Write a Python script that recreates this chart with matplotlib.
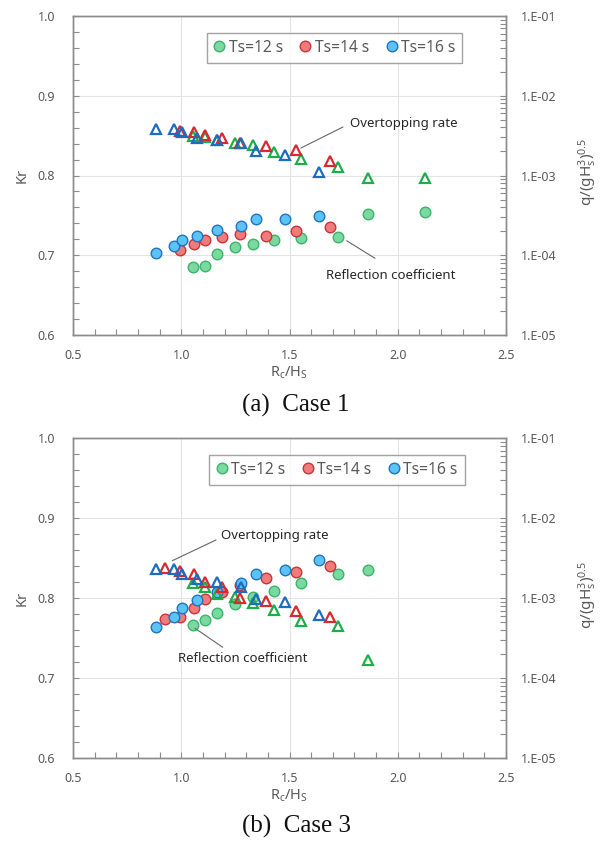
import matplotlib
matplotlib.use('Agg')
import matplotlib.pyplot as plt
import numpy as np
from matplotlib.ticker import MultipleLocator, LogLocator, FuncFormatter, NullFormatter
from matplotlib.lines import Line2D

plt.rcParams['font.family'] = ['Noto Sans', 'DejaVu Sans']

# ---------------- data: Case 1 ----------------
c1_x12 = [1.053, 1.110, 1.164, 1.247, 1.331, 1.430, 1.553, 1.725, 1.863, 2.124]
c1_kr12 = [0.685, 0.6865, 0.7015, 0.710, 0.7145, 0.7195, 0.722, 0.723, 0.7517, 0.754]
c1_q12 = [3.13e-3, 3.07e-3, 2.76e-3, 2.54e-3, 2.39e-3, 1.97e-3, 1.63e-3, 1.29e-3, 9.4e-4, 9.4e-4]

c1_x14 = [0.994, 1.057, 1.108, 1.190, 1.271, 1.393, 1.529, 1.686]
c1_kr14 = [0.707, 0.714, 0.719, 0.723, 0.727, 0.7245, 0.731, 0.736]
c1_q14 = [3.65e-3, 3.51e-3, 3.24e-3, 2.95e-3, 2.58e-3, 2.32e-3, 2.09e-3, 1.53e-3]

c1_x16 = [0.882, 0.966, 1.002, 1.073, 1.164, 1.275, 1.347, 1.481, 1.635]
c1_kr16 = [0.703, 0.712, 0.719, 0.724, 0.732, 0.737, 0.745, 0.746, 0.749]
c1_q16 = [3.79e-3, 3.86e-3, 3.48e-3, 2.98e-3, 2.79e-3, 2.54e-3, 2.05e-3, 1.79e-3, 1.10e-3]

# ---------------- data: Case 3 ----------------
c3_x12 = [1.053, 1.110, 1.164, 1.247, 1.331, 1.430, 1.553, 1.725, 1.863]
c3_kr12 = [0.7666, 0.773, 0.7816, 0.793, 0.8016, 0.809, 0.8195, 0.8308, 0.836]
c3_q12 = [1.54e-3, 1.40e-3, 1.12e-3, 1.05e-3, 8.7e-4, 7.1e-4, 5.2e-4, 4.5e-4, 1.69e-4]

c3_x14 = [0.926, 0.994, 1.057, 1.108, 1.190, 1.271, 1.393, 1.529, 1.686]
c3_kr14 = [0.7745, 0.777, 0.788, 0.799, 0.808, 0.817, 0.826, 0.833, 0.841]
c3_q14 = [2.37e-3, 2.21e-3, 2.00e-3, 1.61e-3, 1.37e-3, 1.02e-3, 9.3e-4, 6.9e-4, 5.8e-4]

c3_x16 = [0.882, 0.966, 1.002, 1.073, 1.164, 1.275, 1.347, 1.481, 1.635]
c3_kr16 = [0.7645, 0.776, 0.7875, 0.798, 0.808, 0.8195, 0.830, 0.8358, 0.848]
c3_q16 = [2.30e-3, 2.32e-3, 2.00e-3, 1.74e-3, 1.60e-3, 1.40e-3, 9.8e-4, 9.0e-4, 6.2e-4]

series_labels = ['Ts=12 s', 'Ts=14 s', 'Ts=16 s']
x_ticks = [0.5, 1.0, 1.5, 2.0, 2.5]
kr_ticks = [0.6, 0.7, 0.8, 0.9, 1.0]

# styles
circ_fill = ['#7ad9a1', '#f07b7b', '#5cc3f5']
circ_edge = ['#3cb46a', '#c9343a', '#1f74c4']
tri_edge = ['#1cae4a', '#d72a30', '#1b6dc0']

GREY = '#595959'
SPINE = '#8c8c8c'

fig = plt.figure(figsize=(6.03, 8.41), dpi=100)


def panel(rect, xs, krs, qs, leg_center, annots, caption, cap_y):
    ax = fig.add_axes(rect)
    ax2 = ax.twinx()
    ax.set_xlim(0.5, 2.5)
    ax.set_ylim(0.6, 1.0)
    ax2.set_yscale('log')
    ax2.set_ylim(1e-5, 1e-1)

    ax.set_xticks(x_ticks)
    ax.set_yticks(kr_ticks)
    ax.xaxis.set_minor_locator(MultipleLocator(0.1))
    ax.yaxis.set_minor_locator(MultipleLocator(0.02))
    ax.set_xticklabels(['%.1f' % v for v in x_ticks])
    ax.set_yticklabels(['%.1f' % v for v in kr_ticks])

    ax2.yaxis.set_major_locator(LogLocator(base=10, numticks=10))
    ax2.yaxis.set_minor_locator(LogLocator(base=10, subs=np.arange(2, 10), numticks=20))
    ax2.yaxis.set_minor_formatter(NullFormatter())
    ax2.yaxis.set_major_formatter(FuncFormatter(lambda v, p: '1.E-%02d' % int(round(-np.log10(v)))))

    ax.grid(True, which='major', color='#e3e3e3', lw=0.8)
    ax.set_axisbelow(True)

    for a in (ax, ax2):
        for s in a.spines.values():
            s.set_color(SPINE)
            s.set_linewidth(1.0)
    ax.tick_params(axis='both', which='both', direction='in', length=4, width=0.8,
                   color=SPINE, labelcolor=GREY, labelsize=9)
    ax.tick_params(axis='y', which='both', pad=13)
    ax.tick_params(axis='x', which='both', pad=10)
    ax2.tick_params(axis='y', which='both', direction='in', length=4, width=0.8,
                    color=SPINE, labelcolor=GREY, labelsize=9, pad=11)

    for i in range(3):
        ax.plot(xs[i], krs[i], ls='none', marker='o', ms=7.6, mfc=circ_fill[i],
                mec=circ_edge[i], mew=1.0, zorder=3)
    for i in range(3):
        ax2.plot(xs[i], qs[i], ls='none', marker='^', ms=7.8, mfc='none',
                 mec=tri_edge[i], mew=1.6, zorder=4)

    handles = [Line2D([], [], ls='none', marker='o', ms=7.6, mfc=circ_fill[i],
                      mec=circ_edge[i], mew=1.0) for i in range(3)]
    leg = ax2.legend(handles, series_labels, loc='center', bbox_to_anchor=leg_center,
                     ncol=3, frameon=True, fancybox=False, edgecolor='#8c8c8c',
                     handlelength=0.7, handletextpad=0.25, columnspacing=1.1,
                     borderpad=0.45, fontsize=11.2, labelcolor=GREY)
    leg.get_frame().set_linewidth(1.0)

    for (tx, ty, lx0, ly0, lx1, ly1, txt) in annots:
        ax.text(tx, ty, txt, ha='left', va='center', fontsize=9.5, color='#262626', zorder=5)
        ax.annotate('', xy=(lx1, ly1), xytext=(lx0, ly0),
                    arrowprops=dict(arrowstyle='-', color='#666666', lw=0.8,
                                    shrinkA=0, shrinkB=0))

    ax.text(-0.118, 0.50, 'Kr', rotation=90, ha='center', va='center',
            transform=ax.transAxes, fontsize=10.5, color=GREY)
    ax.text(1.189, 0.51, r'q/(gH$\mathregular{_s^3}$)$\mathregular{^{0.5}}$', rotation=90,
            ha='center', va='center', transform=ax.transAxes, fontsize=11, color=GREY)
    ax.text(0.5, -0.118, r'R$\mathregular{_c}$/H$\mathregular{_S}$', ha='center', va='center',
            transform=ax.transAxes, fontsize=10.5, color=GREY)

    fig.text(296 / 603, cap_y, caption, ha='center', va='center',
             family='Liberation Serif', fontsize=18, color='#111111')
    return ax


panel([73 / 603, 1 - 335 / 841, 433 / 603, 319 / 841],
      [c1_x12, c1_x14, c1_x16], [c1_kr12, c1_kr14, c1_kr16], [c1_q12, c1_q14, c1_q16],
      (0.604, 0.901),
      [(1.779, 0.8658, 1.747, 0.8608, 1.553, 0.8345, 'Overtopping rate'),
       (1.669, 0.6744, 1.764, 0.7182, 1.895, 0.6962, 'Reflection coefficient')],
      '(a)  Case 1', 1 - 405 / 841)

panel([73 / 603, 1 - 758.3 / 841, 433 / 603, 320 / 841],
      [c3_x12, c3_x14, c3_x16], [c3_kr12, c3_kr14, c3_kr16], [c3_q12, c3_q14, c3_q16],
      (0.610, 0.9025),
      [(1.182, 0.8783, 1.1605, 0.8729, 0.9587, 0.847, 'Overtopping rate'),
       (0.9836, 0.725, 1.0635, 0.7625, 1.1915, 0.7388, 'Reflection coefficient')],
      '(b)  Case 3', 1 - 826 / 841)

fig.savefig('out.png', dpi=100)
